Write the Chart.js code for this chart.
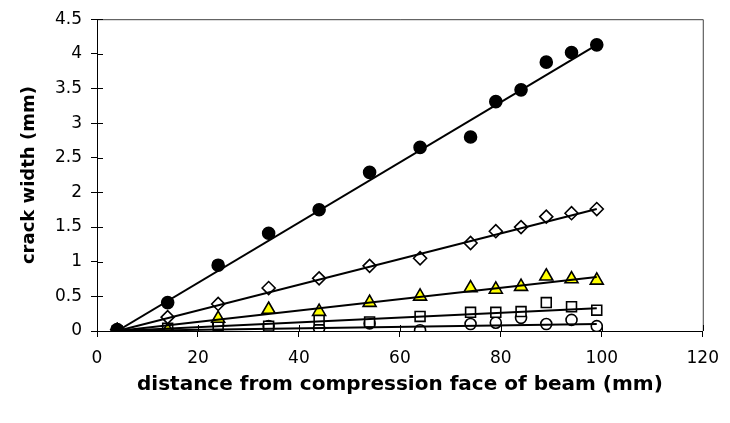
<!DOCTYPE html>
<html>
<head>
<meta charset="utf-8">
<script src="https://cdn.jsdelivr.net/npm/chart.js@4.4.1/dist/chart.umd.min.js"></script>
<style>
  html, body { margin: 0; padding: 0; background: #fff; }
  #wrap { width: 730px; height: 423px; }
</style>
</head>
<body>
<div id="wrap"><canvas id="c" width="730" height="423"></canvas></div>
<script>
// ---- data ----
const distances = [4, 14, 24, 34, 44, 54, 64, 74, 79, 84, 89, 94, 99];
const seriesFilledCircle = [0.02, 0.41, 0.95, 1.41, 1.75, 2.29, 2.65, 2.80, 3.31, 3.48, 3.88, 4.02, 4.13];
const seriesDiamond      = [0.02, 0.20, 0.39, 0.62, 0.76, 0.94, 1.05, 1.27, 1.44, 1.50, 1.65, 1.70, 1.76];
const seriesTriangle     = [0.00, 0.01, 0.18, 0.31, 0.28, 0.41, 0.50, 0.62, 0.60, 0.64, 0.79, 0.75, 0.73];
const seriesSquare       = [0.00, 0.04, 0.08, 0.07, 0.16, 0.13, 0.21, 0.27, 0.27, 0.28, 0.41, 0.35, 0.30];
const seriesOpenCircle   = [0.00, 0.01, 0.10, 0.07, 0.04, 0.11, 0.01, 0.10, 0.12, 0.19, 0.10, 0.16, 0.07];

// trend lines (start/end)
const trendX = [4, 99];
const trendFilledCircle = [0, 4.13];
const trendDiamond      = [0, 1.76];
const trendTriangle     = [0, 0.78];
const trendSquare       = [0, 0.33];
const trendOpenCircle   = [0, 0.10];

const xTicks = [0, 20, 40, 60, 80, 100, 120];
const yTicks = [0, 0.5, 1, 1.5, 2, 2.5, 3, 3.5, 4, 4.5];
const xTitle = 'distance from compression face of beam (mm)';
const yTitle = 'crack width (mm)';

const toPts = (xs, ys) => xs.map((x, i) => ({x: x, y: ys[i]}));

function pointSet(label, ys, style, bg, radius) {
  return {
    label: label, data: toPts(distances, ys), showLine: false,
    pointStyle: style, pointRadius: radius, pointHoverRadius: radius,
    pointBackgroundColor: bg, pointBorderColor: '#000', pointBorderWidth: 1.6,
    order: 2
  };
}
function trendSet(label, ys) {
  return {
    label: label, data: toPts(trendX, ys), showLine: true,
    borderColor: '#000', borderWidth: 2, pointRadius: 0, pointHoverRadius: 0,
    fill: false, order: 1
  };
}

const frame = {
  id: 'frame',
  beforeDatasetsDraw(chart) {
    const {ctx, chartArea: a, scales} = chart;
    ctx.save();
    ctx.strokeStyle = '#404040';
    ctx.lineWidth = 1;
    ctx.beginPath();
    ctx.moveTo(a.left, a.top + 0.5); ctx.lineTo(a.right + 0.5, a.top + 0.5);
    ctx.lineTo(a.right + 0.5, a.bottom);
    ctx.stroke();
    // inner halves of tick marks
    ctx.strokeStyle = '#000';
    ctx.beginPath();
    xTicks.forEach(v => {
      const px = Math.round(scales.x.getPixelForValue(v)) + 0.5;
      ctx.moveTo(px, a.bottom); ctx.lineTo(px, a.bottom - 6);
    });
    yTicks.forEach(v => {
      const py = Math.round(scales.y.getPixelForValue(v)) + 0.5;
      ctx.moveTo(a.left, py); ctx.lineTo(a.left + 6, py);
    });
    ctx.stroke();
    ctx.restore();
  }
};

new Chart(document.getElementById('c'), {
  type: 'scatter',
  data: {
    datasets: [
      trendSet('trend 1', trendFilledCircle),
      trendSet('trend 2', trendDiamond),
      trendSet('trend 3', trendTriangle),
      trendSet('trend 4', trendSquare),
      trendSet('trend 5', trendOpenCircle),
      pointSet('series 1', seriesFilledCircle, 'circle', '#000', 6),
      pointSet('series 2', seriesDiamond, 'rectRot', '#fff', 6.5),
      pointSet('series 3', seriesTriangle, 'triangle', '#ffff00', 7.5),
      pointSet('series 4', seriesSquare, 'rect', '#fff', 7),
      pointSet('series 5', seriesOpenCircle, 'circle', '#fff', 5.5)
    ]
  },
  options: {
    responsive: false,
    animation: false,
    devicePixelRatio: 1,
    layout: { padding: { top: 14, right: 22, left: 0, bottom: 0 } },
    plugins: { legend: { display: false }, tooltip: { enabled: false } },
    scales: {
      x: {
        type: 'linear', min: 0, max: 120,
        afterBuildTicks: s => { s.ticks = xTicks.map(v => ({value: v})); },
        afterFit: s => { s.height = 92; },
        grid: { drawOnChartArea: false, tickLength: 6, color: '#000', tickColor: '#000' },
        border: { color: '#000', width: 1 },
        ticks: { color: '#000', padding: 11, maxRotation: 0, callback: v => String(v),
                 font: { family: 'DejaVu Sans', size: 17 } },
        title: { display: true, text: xTitle, color: '#000', padding: { top: 8, bottom: 26 },
                 font: { family: 'DejaVu Sans', size: 20, weight: 'bold' } }
      },
      y: {
        type: 'linear', min: 0, max: 4.5,
        afterBuildTicks: s => { s.ticks = yTicks.map(v => ({value: v})); },
        afterFit: s => { s.width = 97; },
        grid: { drawOnChartArea: false, tickLength: 6, color: '#000', tickColor: '#000' },
        border: { color: '#000', width: 1 },
        ticks: { color: '#000', padding: 9, callback: v => String(v),
                 font: { family: 'DejaVu Sans', size: 17 } },
        title: { display: true, text: yTitle, color: '#000', padding: { top: 19, bottom: 0 },
                 font: { family: 'DejaVu Sans', size: 18, weight: 'bold' } }
      }
    }
  },
  plugins: [frame]
});
</script>
</body>
</html>
